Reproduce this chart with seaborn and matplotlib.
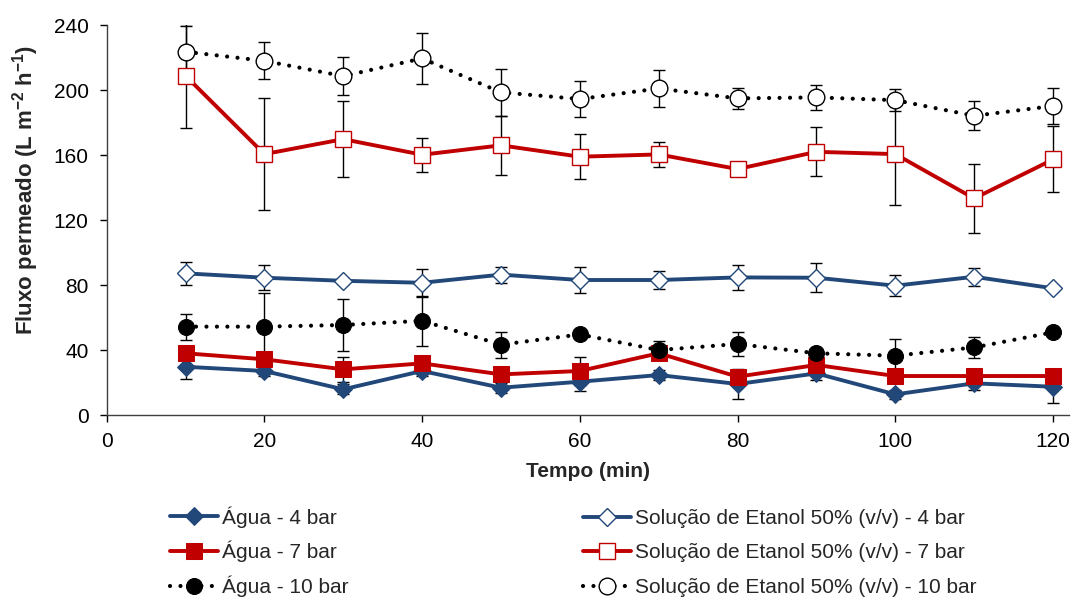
import matplotlib
matplotlib.use("Agg")
import matplotlib.pyplot as plt
import seaborn as sns
import pandas as pd
import numpy as np

time_min = [10, 20, 30, 40, 50, 60, 70, 80, 90, 100, 110, 120]

agua_4 = [29.7, 27.1, 15.8, 27.1, 16.8, 20.5, 24.6, 19.1, 25.6, 12.7, 19.5, 17.4]
agua_4_err = [7.7, 3.0, 3.0, 3.0, 3.0, 6.0, 3.0, 9.0, 4.0, 3.0, 4.0, 10.0]
agua_7 = [38.0, 34.3, 28.1, 31.8, 25.0, 27.1, 38.0, 23.6, 30.8, 24.0, 24.0, 24.0]
agua_7_err = [3.0, 3.0, 7.8, 3.0, 3.0, 8.8, 3.0, 2.0, 3.0, 2.0, 2.0, 2.0]
agua_10 = [54.4, 54.4, 55.4, 58.0, 43.3, 49.6, 40.0, 43.7, 38.0, 36.5, 41.6, 50.9]
agua_10_err = [8.0, 21.0, 15.8, 15.4, 8.0, 3.0, 5.5, 7.5, 2.0, 10.5, 6.5, 2.0]

etanol_4 = [87.2, 84.5, 82.6, 81.4, 86.4, 83.1, 83.1, 84.7, 84.5, 79.6, 85.1, 78.0]
etanol_4_err = [7.0, 7.8, 2.0, 8.5, 5.0, 7.8, 5.7, 7.6, 9.0, 6.4, 5.4, 1.5]
etanol_7 = [208.8, 160.6, 169.8, 160.2, 166.0, 159.0, 160.4, 151.4, 162.0, 160.6, 133.3, 157.3]
etanol_7_err = [32.0, 34.5, 23.5, 10.5, 18.0, 14.0, 7.5, 2.0, 15.0, 31.6, 21.0, 20.3]
etanol_10 = [223.6, 218.0, 208.6, 219.5, 198.6, 194.5, 201.0, 194.9, 195.5, 193.8, 184.2, 190.2]
etanol_10_err = [16.0, 11.3, 11.6, 15.5, 14.5, 11.0, 11.3, 6.6, 7.8, 6.6, 9.0, 11.3]

labels = ["Água - 4 bar", "Água - 7 bar", "Água - 10 bar",
          "Solução de Etanol 50% (v/v) - 4 bar",
          "Solução de Etanol 50% (v/v) - 7 bar",
          "Solução de Etanol 50% (v/v) - 10 bar"]

sns.set_theme(style="white")
plt.rcParams['font.family'] = ['Liberation Sans', 'DejaVu Sans']
plt.rcParams['mathtext.fontset'] = 'custom'
plt.rcParams['mathtext.rm'] = 'Liberation Sans'
plt.rcParams['mathtext.bf'] = 'Liberation Sans:bold'

BLUE = "#22487A"
RED = "#C00000"
dotted = (0, (0.01, 2.5))

series = [
    (agua_4, agua_4_err, dict(color=BLUE, marker="D", markersize=9.5, markerfacecolor=BLUE,
                              markeredgecolor=BLUE, linewidth=2.8, linestyle="-")),
    (agua_7, agua_7_err, dict(color=RED, marker="s", markersize=11, markerfacecolor=RED,
                              markeredgecolor=RED, linewidth=2.8, linestyle="-")),
    (agua_10, agua_10_err, dict(color="black", marker="o", markersize=11.5, markerfacecolor="black",
                                markeredgecolor="black", linewidth=3.0, linestyle=dotted,
                                dash_capstyle="round")),
    (etanol_4, etanol_4_err, dict(color=BLUE, marker="D", markersize=9.5, markerfacecolor="white",
                                  markeredgecolor=BLUE, markeredgewidth=1.0, linewidth=2.8, linestyle="-")),
    (etanol_7, etanol_7_err, dict(color=RED, marker="s", markersize=11, markerfacecolor="white",
                                  markeredgecolor=RED, markeredgewidth=1.0, linewidth=2.8, linestyle="-")),
    (etanol_10, etanol_10_err, dict(color="black", marker="o", markersize=12, markerfacecolor="white",
                                    markeredgecolor="black", markeredgewidth=1.0, linewidth=3.0,
                                    linestyle=dotted, dash_capstyle="round")),
]

fig = plt.figure(figsize=(10.72, 5.98), dpi=100)
ax = fig.add_axes([0.0995, 0.306, 0.8975, 0.652])

for (vals, errs, style), lab in zip(series, labels):
    df = pd.DataFrame({"t": time_min, "v": vals})
    ax.errorbar(time_min, vals, yerr=errs, fmt="none", ecolor="black", elinewidth=1.0,
                capsize=4, capthick=1.0, zorder=1)
    sns.lineplot(data=df, x="t", y="v", ax=ax, label=lab, zorder=3, **style)

ax.set_xlim(0, 122)
ax.set_ylim(0, 240)
ax.set_xticks([0, 20, 40, 60, 80, 100, 120])
ax.set_yticks([0, 40, 80, 120, 160, 200, 240])
ax.tick_params(axis="both", which="both", direction="out", length=5, width=1,
               colors="black", labelsize=15, bottom=True, left=True)
ax.tick_params(axis="x", pad=7)
ax.tick_params(axis="y", pad=8)
for s in ["top", "right"]:
    ax.spines[s].set_visible(False)
for s in ["left", "bottom"]:
    ax.spines[s].set_color("#404040")
    ax.spines[s].set_linewidth(1.0)

ax.set_xlabel("Tempo (min)", fontsize=15, fontweight="bold")
ax.set_ylabel(r"Fluxo permeado (L m$^{\mathbf{-2}}$ h$^{\mathbf{-1}}$)", fontsize=16,
              fontweight="bold")
ax.xaxis.set_label_coords(0.5, -0.12)
ax.yaxis.set_label_coords(-0.068, 0.577)

h, l = ax.get_legend_handles_labels()
ax.get_legend().remove()
leg_kw = dict(loc="upper left", frameon=False, ncol=1, fontsize=15, handlelength=2.3,
              handletextpad=0.2, borderpad=0, borderaxespad=0)
leg1 = fig.legend(h[:3], l[:3], bbox_to_anchor=(170 / 1072, 1 - 506 / 598),
                  labelspacing=0.64, **leg_kw)
leg2 = fig.legend(h[3:], l[3:], bbox_to_anchor=(583 / 1072, 1 - 509 / 598),
                  labelspacing=0.74, **leg_kw)

fig.savefig("out.png", dpi=100)
